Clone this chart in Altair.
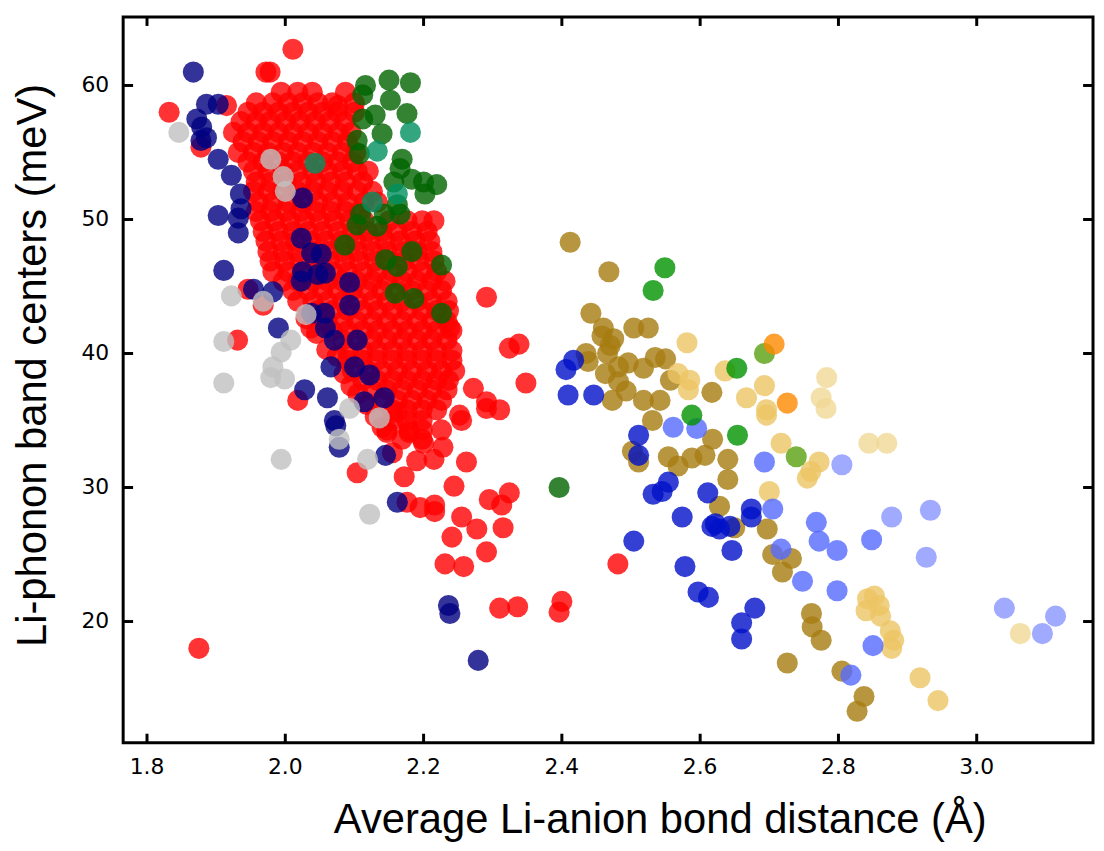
import altair as alt
import pandas as pd

# ---------------- data ----------------
x_ticks = [1.8, 2.0, 2.2, 2.4, 2.6, 2.8, 3.0]
x_labels = ["1.8", "2.0", "2.2", "2.4", "2.6", "2.8", "3.0"]
y_ticks = [20, 30, 40, 50, 60]
y_labels = ["20", "30", "40", "50", "60"]

X_TITLE = "Average Li-anion bond distance (Å)"
Y_TITLE = "Li-phonon band centers (meV)"

# dense red cloud, by rows (y value -> x values)
red_rows = {
    59.5: [1.994, 2.018, 2.039, 2.087],
    58.7: [1.958, 1.982, 2.004, 2.025, 2.047, 2.068, 2.100],
    58.0: [1.946, 1.968, 1.990, 2.011, 2.033, 2.054, 2.076],
    57.3: [1.936, 1.958, 1.978, 2.000, 2.021, 2.043, 2.064, 2.086],
    56.5: [1.925, 1.946, 1.968, 1.990, 2.011, 2.033, 2.054, 2.076, 2.095],
    55.8: [1.939, 1.961, 1.982, 2.004, 2.025, 2.047, 2.068, 2.090],
    55.0: [1.932, 1.954, 1.975, 1.997, 2.018, 2.040, 2.061, 2.083, 2.102],
    54.3: [1.946, 1.968, 1.990, 2.011, 2.033, 2.054, 2.076, 2.097],
    53.6: [1.954, 1.975, 1.997, 2.018, 2.040, 2.061, 2.083, 2.104, 2.120],
    52.8: [1.958, 1.979, 2.001, 2.023, 2.044, 2.066, 2.087, 2.112],
    52.1: [1.954, 1.975, 1.997, 2.018, 2.040, 2.061, 2.083, 2.104, 2.126],
    51.3: [1.961, 1.982, 2.004, 2.025, 2.047, 2.068, 2.090, 2.114, 2.133],
    50.6: [1.958, 1.979, 2.001, 2.023, 2.044, 2.066, 2.087, 2.107],
    49.9: [1.964, 1.985, 2.007, 2.028, 2.050, 2.071, 2.093, 2.114, 2.150, 2.176, 2.198, 2.215],
    49.1: [1.968, 1.990, 2.011, 2.033, 2.054, 2.076, 2.097, 2.119, 2.140, 2.162, 2.183, 2.205],
    48.4: [1.972, 1.994, 2.015, 2.037, 2.058, 2.080, 2.102, 2.123, 2.145, 2.166, 2.188, 2.209],
    47.6: [1.975, 1.997, 2.018, 2.040, 2.061, 2.083, 2.104, 2.126, 2.147, 2.169, 2.191, 2.212],
    46.9: [1.978, 1.999, 2.021, 2.043, 2.064, 2.086, 2.107, 2.129, 2.150, 2.172, 2.193, 2.215],
    46.1: [1.982, 2.004, 2.025, 2.047, 2.068, 2.090, 2.112, 2.133, 2.155, 2.176, 2.198, 2.219],
    45.4: [1.997, 2.018, 2.040, 2.061, 2.083, 2.104, 2.126, 2.147, 2.169, 2.191, 2.212, 2.231],
    44.7: [2.011, 2.033, 2.054, 2.076, 2.097, 2.119, 2.140, 2.162, 2.183, 2.205, 2.226],
    43.9: [2.018, 2.040, 2.061, 2.083, 2.104, 2.126, 2.147, 2.169, 2.191, 2.212, 2.234],
    43.2: [2.047, 2.068, 2.090, 2.112, 2.133, 2.155, 2.176, 2.198, 2.219, 2.236],
    42.4: [2.061, 2.083, 2.104, 2.126, 2.147, 2.169, 2.191, 2.212, 2.234],
    41.7: [2.068, 2.090, 2.112, 2.133, 2.155, 2.176, 2.198, 2.219, 2.241],
    41.0: [2.083, 2.104, 2.126, 2.147, 2.169, 2.191, 2.212, 2.234],
    40.2: [2.090, 2.112, 2.133, 2.155, 2.176, 2.198, 2.219, 2.241],
    39.5: [2.090, 2.112, 2.133, 2.155, 2.176, 2.198, 2.219, 2.241],
    38.7: [2.097, 2.119, 2.140, 2.162, 2.183, 2.205, 2.226, 2.245],
    38.0: [2.112, 2.133, 2.155, 2.176, 2.198, 2.219, 2.236],
    37.3: [2.126, 2.147, 2.169, 2.191, 2.212, 2.234],
    36.5: [2.140, 2.162, 2.183, 2.205, 2.226],
    35.8: [2.155, 2.176, 2.198, 2.219],
    35.0: [2.155, 2.176, 2.198],
    34.3: [2.147, 2.179, 2.198, 2.226],
    33.6: [2.169, 2.198],
}
red_extra_x = [2.030, 2.045, 2.060, 2.075, 2.085, 2.095, 2.105, 2.118, 2.130, 2.140,
               2.018, 2.037, 1.832, 1.915, 1.878, 1.972, 1.978, 2.011, 1.931, 1.946,
               1.968, 1.875, 2.291, 2.324, 2.338, 2.348, 2.272, 2.291, 2.252, 2.238,
               2.162, 2.147, 2.155, 2.104, 2.172, 2.179, 2.215, 2.244, 2.262, 2.255,
               2.291, 2.310, 2.176, 2.195, 2.216, 2.216, 2.255, 2.277, 2.241, 2.295,
               2.324, 2.313, 2.315, 2.291, 2.231, 2.258, 2.310, 2.336, 2.396, 2.400,
               2.481, 2.200, 2.228, 2.190, 2.076, 2.100]
red_extra_y = [42.6, 41.5, 40.3, 39.8, 38.5, 37.6, 37.0, 36.2, 35.3, 34.5,
               36.5, 41.9, 58.0, 58.5, 55.4, 61.0, 61.0, 62.7, 41.0, 44.8,
               43.6, 18.0, 44.2, 40.4, 40.7, 37.8, 37.4, 36.4, 35.4, 41.9,
               35.6, 34.1, 32.6, 31.1, 30.8, 34.1, 32.1, 30.1, 31.9, 35.0,
               35.9, 35.8, 28.9, 28.5, 28.7, 28.2, 27.8, 26.9, 26.3, 29.1,
               29.6, 28.7, 27.0, 25.2, 24.3, 24.1, 21.0, 21.1, 20.7, 21.5,
               24.3, 33.3, 33.0, 32.0, 58.5, 58.0]

navy_x = [1.867, 1.886, 1.903, 1.872, 1.879, 1.886, 1.878, 1.903, 1.922, 1.935,
          1.936, 1.903, 1.932, 1.932, 1.911, 1.954, 1.982, 2.025, 2.023, 2.038,
          2.052, 2.025, 2.047, 2.058, 2.023, 2.093, 2.093, 2.057, 2.038, 1.990,
          2.058, 2.071, 2.104, 2.066, 2.100, 2.122, 2.028, 2.061, 2.114, 2.143,
          2.071, 2.073, 2.078, 2.145, 2.162, 2.236, 2.238, 2.279]
navy_y = [61.0, 58.6, 58.6, 57.5, 56.9, 56.1, 55.9, 54.5, 53.3, 51.9,
          50.8, 50.3, 50.1, 49.0, 46.2, 44.8, 44.6, 51.6, 48.6, 47.5,
          47.4, 46.1, 45.9, 46.0, 45.4, 45.3, 43.6, 43.0, 43.0, 41.9,
          41.9, 41.0, 41.0, 39.0, 39.0, 38.4, 37.3, 36.7, 36.4, 36.7,
          35.0, 34.6, 33.0, 32.4, 28.9, 21.2, 20.6, 17.1]

silver_x = [1.846, 1.979, 1.997, 2.000, 1.922, 1.968, 2.030, 1.911, 2.008, 1.994,
            1.982, 1.979, 1.999, 1.911, 2.093, 2.136, 2.078, 2.119, 1.994, 2.122]
silver_y = [56.5, 54.5, 53.2, 52.1, 44.3, 43.9, 42.9, 40.9, 41.0, 40.1,
            39.0, 38.2, 38.1, 37.8, 35.9, 35.2, 33.6, 32.1, 32.1, 28.0]

dgreen_x = [2.116, 2.112, 2.150, 2.181, 2.152, 2.176, 2.130, 2.112, 2.140, 2.104,
            2.107, 2.169, 2.166, 2.183, 2.200, 2.219, 2.202, 2.157, 2.162, 2.166,
            2.109, 2.104, 2.133, 2.143, 2.086, 2.145, 2.162, 2.183, 2.226, 2.159,
            2.186, 2.226, 2.396]
dgreen_y = [60.0, 59.3, 60.4, 60.2, 58.9, 57.9, 57.8, 57.5, 56.4, 55.9,
            54.9, 54.5, 53.8, 53.0, 52.8, 52.6, 51.9, 52.8, 51.1, 50.4,
            50.4, 49.6, 49.5, 50.4, 48.1, 47.0, 46.5, 47.6, 46.6, 44.5,
            44.1, 43.0, 30.0]

teal_x = [2.181, 2.133, 2.043, 2.126, 2.162]
teal_y = [56.5, 55.1, 54.2, 51.3, 51.9]

gold_x = [2.412, 2.468, 2.442, 2.460, 2.458, 2.475, 2.504, 2.525, 2.435, 2.438,
          2.466, 2.463, 2.482, 2.496, 2.482, 2.493, 2.518, 2.473, 2.535, 2.550,
          2.518, 2.542, 2.531, 2.557, 2.617, 2.618, 2.607, 2.588, 2.554, 2.568,
          2.502, 2.511, 2.640, 2.640, 2.628, 2.650, 2.697, 2.705, 2.732, 2.719,
          2.726, 2.761, 2.762, 2.775, 2.805, 2.837, 2.827, 2.470]
gold_y = [48.3, 46.1, 43.0, 41.9, 41.3, 41.1, 41.9, 41.9, 40.0, 39.4,
          40.0, 38.5, 39.0, 39.3, 37.9, 37.2, 36.5, 36.5, 39.7, 39.6,
          38.9, 36.5, 35.0, 38.0, 37.1, 33.6, 32.4, 32.2, 32.3, 31.6,
          32.7, 31.9, 32.1, 30.6, 28.6, 27.0, 26.9, 25.0, 24.7, 23.7,
          16.9, 20.6, 19.6, 18.6, 16.3, 14.4, 13.3, 40.6]

tan_x = [2.581, 2.568, 2.585, 2.583, 2.636, 2.667, 2.693, 2.696, 2.696, 2.717,
         2.772, 2.755, 2.760, 2.700, 2.842, 2.852, 2.859, 2.840, 2.861, 2.875,
         2.880, 2.877, 2.918, 2.944]
tan_y = [40.8, 38.5, 38.0, 37.3, 38.7, 36.7, 37.6, 35.8, 35.4, 33.3,
         31.9, 30.7, 31.2, 29.7, 21.7, 21.9, 21.2, 20.8, 20.4, 19.3,
         18.6, 18.0, 15.8, 14.1]

ltan_x = [2.783, 2.775, 2.782, 2.844, 2.870, 3.063]
ltan_y = [38.2, 36.7, 35.9, 33.3, 33.3, 19.1]

mblue_x = [2.417, 2.406, 2.409, 2.446, 2.511, 2.511, 2.554, 2.545, 2.532, 2.611,
           2.574, 2.622, 2.674, 2.674, 2.617, 2.628, 2.643, 2.504, 2.646, 2.578,
           2.597, 2.612, 2.679, 2.660, 2.660]
mblue_y = [39.5, 38.8, 36.9, 36.9, 33.9, 32.4, 30.4, 29.7, 29.5, 29.6,
           27.8, 27.3, 28.4, 27.8, 27.1, 26.9, 27.1, 26.0, 25.3, 24.1,
           22.2, 21.8, 21.0, 19.9, 18.7]

lblue_x = [2.561, 2.595, 2.693, 2.705, 2.768, 2.772, 2.798, 2.848, 2.717, 2.748,
           2.798, 2.818, 2.850]
lblue_y = [34.5, 34.4, 31.9, 28.4, 27.4, 26.0, 25.3, 26.1, 25.4, 23.0,
           22.3, 16.0, 18.2]

llblue_x = [2.805, 2.877, 2.933, 2.927, 3.040, 3.095, 3.114]
llblue_y = [31.7, 27.8, 28.3, 24.8, 21.0, 19.1, 20.4]

green_x = [2.549, 2.532, 2.653, 2.588, 2.654]
green_y = [46.4, 44.7, 38.9, 35.4, 33.9]

orange_x = [2.707, 2.726]
orange_y = [40.7, 36.3]

ygreen_x = [2.693, 2.739]
ygreen_y = [40.0, 32.3]

series_names = ["red", "navy", "silver", "dgreen", "teal", "gold", "tan", "ltan",
                "mblue", "lblue", "llblue", "green", "ygreen", "orange"]
series_colors = ["#ff0000", "#000080", "#c0c0c0", "#006400", "#009060", "#a67c10",
                 "#ecc463", "#f0d895", "#0010c8", "#556aff", "#8895ff", "#009200",
                 "#59a010", "#ff8800"]

# ---------------- build table ----------------
red_x = [x for yv, xs in red_rows.items() for x in xs] + red_extra_x
red_y = [yv for yv, xs in red_rows.items() for x in xs] + red_extra_y

pairs = {
    "red": (red_x, red_y), "navy": (navy_x, navy_y), "silver": (silver_x, silver_y),
    "dgreen": (dgreen_x, dgreen_y), "teal": (teal_x, teal_y), "gold": (gold_x, gold_y),
    "tan": (tan_x, tan_y), "ltan": (ltan_x, ltan_y), "mblue": (mblue_x, mblue_y),
    "lblue": (lblue_x, lblue_y), "llblue": (llblue_x, llblue_y),
    "green": (green_x, green_y), "ygreen": (ygreen_x, ygreen_y),
    "orange": (orange_x, orange_y),
}
rows = []
k = 0
for name in series_names:
    xs, ys = pairs[name]
    for xv, yv in zip(xs, ys):
        rows.append({"x": xv, "y": yv, "s": name, "k": k})
        k += 1
df = pd.DataFrame(rows)

W, H = 977, 731
XDOM = [1.7655, 3.1682]
YDOM = [10.96, 65.11]

xscale = alt.Scale(domain=XDOM, nice=False, zero=False)
yscale = alt.Scale(domain=YDOM, nice=False, zero=False)

points = alt.Chart(df).mark_circle(size=452, opacity=0.8, strokeWidth=0).encode(
    x=alt.X("x:Q", scale=xscale, axis=None),
    y=alt.Y("y:Q", scale=yscale, axis=None),
    color=alt.Color("s:N", scale=alt.Scale(domain=series_names, range=series_colors),
                    legend=None),
    order=alt.Order("k:Q"),
)

# inward tick marks on all four sides (pixel lengths are styling only)
tick_x = pd.DataFrame({"x": x_ticks})
tick_y = pd.DataFrame({"y": y_ticks})
lab_x = pd.DataFrame({"x": x_ticks, "label": x_labels})
lab_y = pd.DataFrame({"y": y_ticks, "label": y_labels})

tick_bottom = alt.Chart(tick_x).mark_rule(color="black", strokeWidth=3).encode(
    x=alt.X("x:Q", scale=xscale, axis=None), y=alt.value(H), y2=alt.value(H - 9))
tick_top = alt.Chart(tick_x).mark_rule(color="black", strokeWidth=3).encode(
    x=alt.X("x:Q", scale=xscale, axis=None), y=alt.value(0), y2=alt.value(9))
tick_left = alt.Chart(tick_y).mark_rule(color="black", strokeWidth=3).encode(
    y=alt.Y("y:Q", scale=yscale, axis=None), x=alt.value(0), x2=alt.value(10))
tick_right = alt.Chart(tick_y).mark_rule(color="black", strokeWidth=3).encode(
    y=alt.Y("y:Q", scale=yscale, axis=None), x=alt.value(W), x2=alt.value(W - 10))

# tick labels, placed through the same scales
x_tick_labels = alt.Chart(lab_x).mark_text(
    font="DejaVu Sans", fontSize=22, color="black", align="center", baseline="top"
).encode(x=alt.X("x:Q", scale=xscale, axis=None), y=alt.value(H + 15), text="label:N")
y_tick_labels = alt.Chart(lab_y).mark_text(
    font="DejaVu Sans", fontSize=22, color="black", align="right", baseline="middle"
).encode(y=alt.Y("y:Q", scale=yscale, axis=None), x=alt.value(-14), text="label:N")

# axis titles
x_title = alt.Chart(pd.DataFrame({"t": [X_TITLE]})).mark_text(
    font="Liberation Sans", fontSize=42, color="black", align="center",
    baseline="alphabetic"
).encode(x=alt.value(541), y=alt.value(822), text="t:N")
y_title = alt.Chart(pd.DataFrame({"t": [Y_TITLE]})).mark_text(
    font="Liberation Sans", fontSize=42, color="black", align="center",
    baseline="alphabetic", angle=270
).encode(x=alt.value(-78), y=alt.value(351), text="t:N")

chart = alt.layer(
    points, tick_bottom, tick_top, tick_left, tick_right,
    x_tick_labels, y_tick_labels, x_title, y_title
).properties(
    width=W, height=H,
    autosize=alt.AutoSizeParams(type="none"),
    padding={"left": 116, "top": 6, "right": 3, "bottom": 98},
    background="white",
).configure_view(
    stroke="black", strokeWidth=3
).configure_axis(
    grid=False, domain=False, ticks=False, tickSize=0,
    labelFont="DejaVu Sans", labelFontSize=22, labelColor="black",
    titleFont="Liberation Sans", titleFontSize=42, titleFontWeight="normal",
    titleColor="black",
)

chart.save("out.html", embed_options={"renderer": "svg", "actions": False})
